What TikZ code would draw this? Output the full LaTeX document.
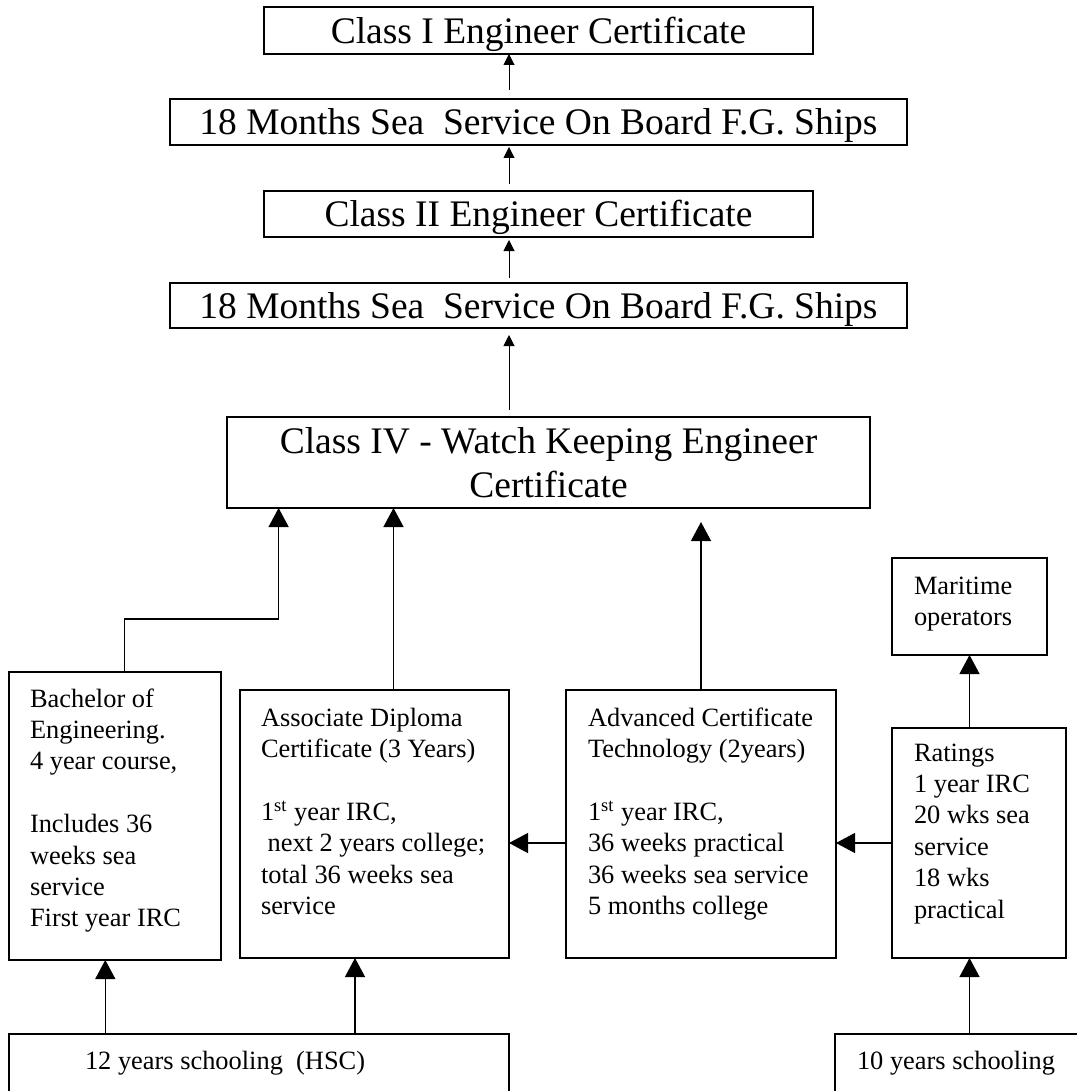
\documentclass[tikz,border=0pt]{standalone}
\usepackage{fontspec}
\setmainfont{Liberation Serif}
\usetikzlibrary{arrows.meta}
\tikzset{
 topbox/.style={draw, line width=0.85pt, inner sep=0pt, outer sep=0pt, font=\fontsize{18.75}{22}\selectfont, text height=12.8pt, text depth=0pt},
 midbox/.style={draw, line width=0.85pt, inner sep=0pt, outer sep=0pt, align=center, font=\fontsize{18.75}{22}\selectfont},
 lowbox/.style={draw, line width=0.65pt, inner sep=0pt, outer sep=0pt},
 txt/.style={inner sep=0pt, outer sep=0pt, align=left, anchor=north west, font=\fontsize{13.2}{15.7}\selectfont},
 btxt/.style={inner sep=0pt, outer sep=0pt, anchor=base west, font=\fontsize{13.2}{15.7}\selectfont},
 arrS/.style={line width=0.5pt, -{Triangle[length=5.5pt,width=5.5pt]}},
 arrL/.style={line width=0.65pt, -{Triangle[length=9.5pt,width=10pt]}},
}
\begin{document}
\begin{tikzpicture}[x=0.5pt,y=-0.5pt]
\path[use as bounding box, fill=white] (0,0) rectangle (1076,1091);

% top chain
\node[topbox, minimum width=274.5pt, minimum height=23.5pt] (b1) at (538.5,30.5) {Class I Engineer Certificate};
\node[topbox, minimum width=368.5pt, minimum height=23pt] (b2) at (538.5,122) {18 Months Sea \ Service On Board F.G. Ships};
\node[topbox, minimum width=274.5pt, minimum height=23pt] (b3) at (538.5,214) {Class II Engineer Certificate};
\node[topbox, minimum width=368.5pt, minimum height=22.5pt] (b4) at (538.5,305.5) {18 Months Sea \ Service On Board F.G. Ships};
\node[midbox, minimum width=321.5pt, minimum height=45.5pt] (c4) at (548.5,462.5) {Class IV - Watch Keeping Engineer\\Certificate};

% lower boxes
\node[lowbox, minimum width=106pt, minimum height=144pt] (be) at (115,816) {};
\node[lowbox, minimum width=134.5pt, minimum height=134pt] (ad) at (374.5,824) {};
\node[lowbox, minimum width=135pt, minimum height=134pt] (act) at (701,824) {};
\node[lowbox, minimum width=77.5pt, minimum height=48.5pt] (mo) at (969.5,606.5) {};
\node[lowbox, minimum width=87pt, minimum height=115pt] (rat) at (979,843) {};
\node[lowbox, minimum width=250pt, minimum height=38pt] (s12) at (259,1072) {};
\node[lowbox, minimum width=132.5pt, minimum height=38pt] (s10) at (967.5,1072) {};

% texts
\node[txt] (tbe) at (30,683) {\rule{0pt}{12pt}Bachelor of\\Engineering.\\4 year course,\\\mbox{}\\Includes 36\\weeks sea\\service\\First year IRC};
\node[txt] (tad) at (261,702) {\rule{0pt}{12pt}Associate Diploma\\Certificate (3 Years)\\\mbox{}\\1\textsuperscript{st} year IRC,\\\hspace*{0.25em}next 2 years college;\\total 36 weeks sea\\service};
\node[txt] (tact) at (588,702) {\rule{0pt}{12pt}Advanced Certificate\\Technology (2years)\\\mbox{}\\1\textsuperscript{st} year IRC,\\36 weeks practical\\36 weeks sea service\\5 months college};
\node[txt] (tmo) at (914,570) {\rule{0pt}{12pt}Maritime\\operators};
\node[txt] (trat) at (914,737) {\rule{0pt}{12pt}Ratings\\1 year IRC\\20 wks sea\\service\\18 wks\\practical};
\node[btxt] (t12) at (85,1069.7) {12 years schooling \ (HSC)};
\node[btxt] (t10) at (857,1069.7) {10 years schooling};

% helper coordinates
\coordinate (tx) at (509,0);
\coordinate (j0) at (124.5,0);
\coordinate (j1) at (278.6,619);
\coordinate (x2) at (393.5,0);
\coordinate (hy) at (0,843);
\coordinate (x12a) at (105.3,0);
\coordinate (x12b) at (355,0);

% top arrows
\draw[arrS, shorten <=4.5pt] (b2.north -| tx) -- (b1.south -| tx);
\draw[arrS, shorten <=3.5pt, shorten >=1pt] (b3.north -| tx) -- (b2.south -| tx);
\draw[arrS, shorten <=2.5pt, shorten >=1.5pt] (b4.north -| tx) -- (b3.south -| tx);
\draw[arrS, shorten <=3.5pt, shorten >=3.5pt] (c4.north -| tx) -- (b4.south -| tx);

% lower arrows
\draw[arrL] (be.north -| j0) |- (j1) -- (c4.south -| j1);
\draw[arrL] (ad.north -| x2) -- (c4.south -| x2);
\draw[arrL, shorten >=7pt] (act.north) -- (c4.south -| act.north);
\draw[arrL] (rat.north -| mo.south) -- (mo.south);
\draw[arrL] (act.west |- hy) -- (ad.east |- hy);
\draw[arrL] (rat.west |- hy) -- (act.east |- hy);
\draw[arrL] (s12.north -| x12a) -- (be.south -| x12a);
\draw[arrL] (s12.north -| x12b) -- (ad.south -| x12b);
\draw[arrL] (s10.north -| mo.south) -- (rat.south -| mo.south);
\end{tikzpicture}
\end{document}
